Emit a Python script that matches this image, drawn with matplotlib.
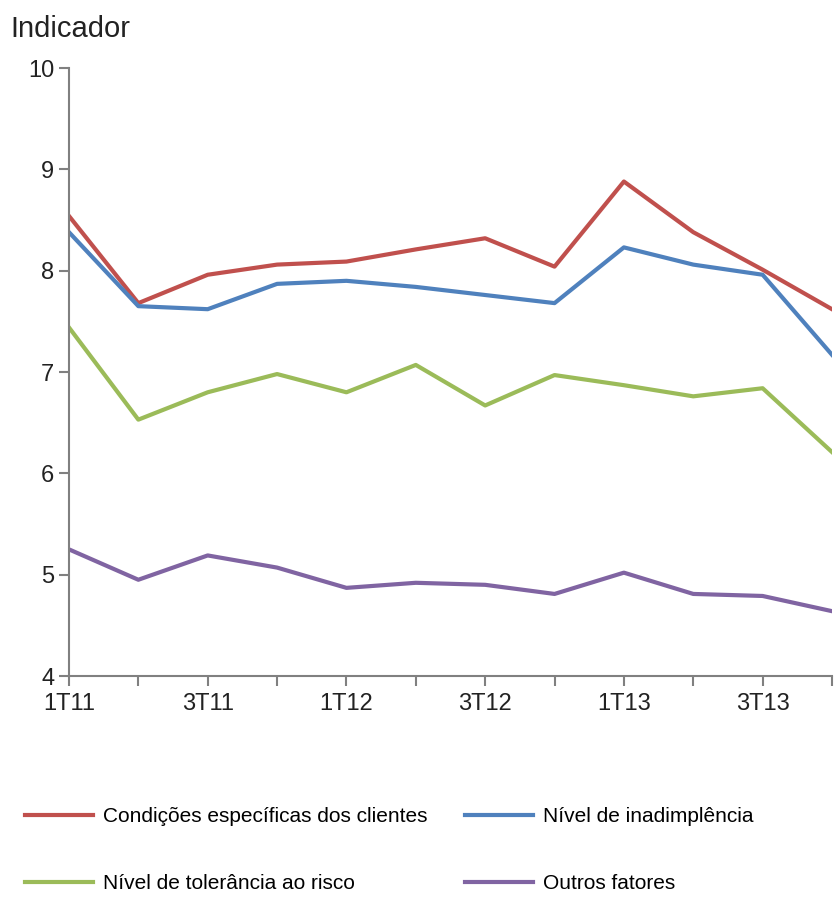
import matplotlib.pyplot as plt

# Quarter labels (x axis)
quarters = ['1T11', '2T11', '3T11', '4T11', '1T12', '2T12',
            '3T12', '4T12', '1T13', '2T13', '3T13', '4T13']

# Series values
condicoes = [8.54, 7.68, 7.96, 8.06, 8.09, 8.21, 8.32, 8.04, 8.88, 8.38, 8.01, 7.62]
inadimplencia = [8.38, 7.65, 7.62, 7.87, 7.90, 7.84, 7.76, 7.68, 8.23, 8.06, 7.96, 7.17]
tolerancia = [7.44, 6.53, 6.80, 6.98, 6.80, 7.07, 6.67, 6.97, 6.87, 6.76, 6.84, 6.21]
outros = [5.25, 4.95, 5.19, 5.07, 4.87, 4.92, 4.90, 4.81, 5.02, 4.81, 4.79, 4.64]

labels = ['Condições específicas dos clientes', 'Nível de inadimplência',
          'Nível de tolerância ao risco', 'Outros fatores']
colors = ['#C0504D', '#4F81BD', '#9BBB59', '#8064A2']

plt.rcParams['font.family'] = ['Liberation Sans', 'DejaVu Sans']

fig = plt.figure(figsize=(8.35, 9.01), dpi=100)
ax = fig.add_axes([0.0826, 0.2497, 0.9138, 0.6748])

x = list(range(len(quarters)))
lines = []
for ys, lab, c in zip([condicoes, inadimplencia, tolerancia, outros], labels, colors):
    ln, = ax.plot(x, ys, color=c, lw=3, label=lab)
    lines.append(ln)

ax.set_xlim(0, len(quarters) - 1)
ax.set_ylim(4, 10)
ax.set_yticks(range(4, 11))
ax.set_xticks(x)
ax.set_xticklabels([q if i % 2 == 0 else '' for i, q in enumerate(quarters)])

for s in ['top', 'right']:
    ax.spines[s].set_visible(False)
for s in ['left', 'bottom']:
    ax.spines[s].set_color('#808080')
    ax.spines[s].set_linewidth(1.5)
ax.tick_params(axis='both', colors='#808080', length=7, width=1.5,
               labelcolor='#222222', labelsize=17)
ax.tick_params(axis='x', pad=5)

fig.text(0.012, 0.968, 'Indicador', fontsize=21, color='#222222', va='center')

# row-major order for a 2-column legend
order = [0, 2, 1, 3]
fig.legend([lines[i] for i in order], [labels[i] for i in order],
           loc='upper left', bbox_to_anchor=(0.012, 0.12), ncol=2,
           frameon=False, fontsize=15, handlelength=3.3, handletextpad=0.45,
           columnspacing=1.8, labelspacing=2.3, borderaxespad=0.3)

fig.savefig('out.png', dpi=100)
